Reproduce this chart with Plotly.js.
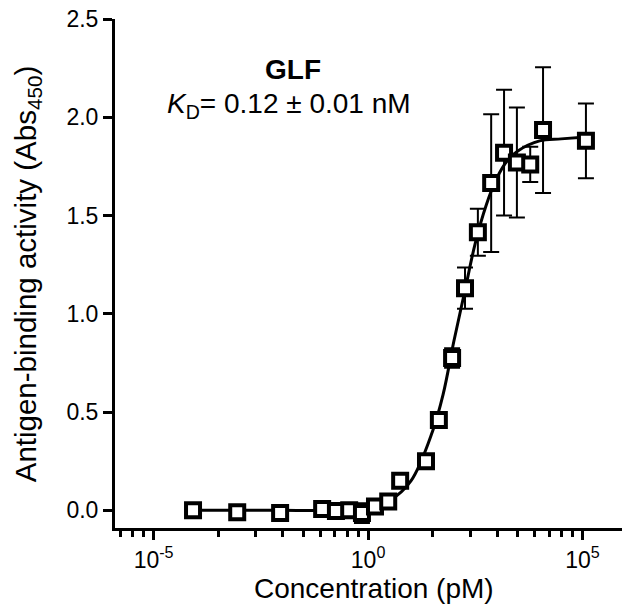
<!DOCTYPE html>
<html>
<head>
<meta charset="utf-8">
<script src="https://cdn.plot.ly/plotly-3.0.1.min.js"></script>
<style>html,body{margin:0;padding:0;background:#fff;}#chart{width:625px;height:606px;}</style>
</head>
<body>
<div id="chart"></div>
<script>
// Concentrations (pM) and antigen-binding activity (Abs450)
const concentration = [8.3e-5, 8.9e-4, 8.9e-3, 0.085, 0.178, 0.363, 0.72, 1.45, 2.95, 5.6,
  22.4, 44.7, 91, 182, 363, 741, 1480, 2950, 6030, 12000, 120000];
const activity = [0.00, -0.01, -0.014, 0.007, -0.004, 0.00, -0.014, 0.02, 0.045, 0.15,
  0.25, 0.46, 0.775, 1.13, 1.415, 1.665, 1.82, 1.77, 1.76, 1.935, 1.88];
const activityErr = [0.01, 0.01, 0.01, 0.01, 0.01, 0.01, 0.05, 0.02, 0.02, 0.02,
  0.02, 0.02, 0.05, 0.105, 0.12, 0.35, 0.32, 0.28, 0.09, 0.32, 0.19];

// Fitted curve, points
const fitConc = [8.3e-5, 1e-3, 1e-2, 0.1, 1, 3.16, 10, 31.6, 56.2, 100, 178, 316, 562,
  1000, 1778, 3162, 10000, 31623, 120000];
const fitActivity = [0, 0, 0, 0, 0.016, 0.05, 0.15, 0.40, 0.59, 0.86, 1.11, 1.36, 1.55,
  1.69, 1.78, 1.83, 1.88, 1.89, 1.90];

const xTickVals = [1e-5, 1, 1e5];
const xTickText = ['10<sup>-5</sup>', '10<sup>0</sup>', '10<sup>5</sup>'];
const yTickVals = [0, 0.5, 1.0, 1.5, 2.0, 2.5];
const yTickText = ['0.0', '0.5', '1.0', '1.5', '2.0', '2.5'];

const xRangeLog = [-5.90, 5.92];
const minorVals = [];
[-10, -5, 0, 5].forEach(b => {
  for (let k = 2; k <= 9; k++) {
    const lv = b + 5 * Math.log10(k);
    if (lv > xRangeLog[0] && lv < xRangeLog[1]) minorVals.push(Math.pow(10, lv));
  }
});

const FONT = 'Liberation Sans, Arial, Helvetica, sans-serif';

const traces = [
  {
    x: fitConc, y: fitActivity, type: 'scatter', mode: 'lines',
    line: {color: '#000', width: 3, shape: 'spline', smoothing: 1},
    hoverinfo: 'skip', showlegend: false
  },
  {
    x: concentration, y: activity, type: 'scatter', mode: 'markers',
    marker: {symbol: 'square', size: 14, color: '#fff', line: {color: '#000', width: 4}},
    error_y: {type: 'data', array: activityErr, visible: true, color: '#000', thickness: 2, width: 8},
    showlegend: false
  }
];

const layout = {
  width: 625, height: 606,
  margin: {l: 115, r: 3, t: 19, b: 78},
  paper_bgcolor: '#fff', plot_bgcolor: '#fff',
  font: {family: FONT, color: '#000'},
  showlegend: false,
  xaxis: {
    type: 'log', range: xRangeLog,
    tickmode: 'array', tickvals: xTickVals, ticktext: xTickText,
    ticks: 'outside', ticklen: 9, tickwidth: 3, tickcolor: '#000',
    minor: {tickmode: 'array', tickvals: minorVals, ticks: 'outside', ticklen: 6, tickwidth: 3, tickcolor: '#000', showgrid: false},
    showline: true, linewidth: 3, linecolor: '#000',
    showgrid: false, zeroline: false,
    tickfont: {family: FONT, size: 23, color: '#000'}
  },
  yaxis: {
    range: [-0.09, 2.5],
    tickmode: 'array', tickvals: yTickVals, ticktext: yTickText,
    ticks: 'outside', ticklen: 9, tickwidth: 3, tickcolor: '#000',
    showline: true, linewidth: 3, linecolor: '#000',
    showgrid: false, zeroline: false,
    tickfont: {family: FONT, size: 23, color: '#000'}
  },
  annotations: [
    {xref: 'paper', yref: 'paper', x: 0.352, y: 0.90, xanchor: 'center', yanchor: 'middle',
     text: '<b>GLF</b>', showarrow: false, font: {family: FONT, size: 28, color: '#000'}},
    {xref: 'paper', yref: 'paper', x: 0.344, y: 0.83, xanchor: 'center', yanchor: 'middle',
     text: '<i>K</i><sub>D</sub>= 0.12 ± 0.01 nM', showarrow: false, font: {family: FONT, size: 28, color: '#000'}},
    {xref: 'paper', yref: 'paper', x: -0.172, y: 0.50, xanchor: 'center', yanchor: 'middle',
     textangle: -90, text: 'Antigen-binding activity (Abs<sub>450</sub>)', showarrow: false,
     font: {family: FONT, size: 29.5, color: '#000'}},
    {xref: 'paper', yref: 'paper', x: 0.511, y: -0.118, xanchor: 'center', yanchor: 'middle',
     text: 'Concentration (pM)', showarrow: false, font: {family: FONT, size: 28, color: '#000'}}
  ]
};

Plotly.newPlot('chart', traces, layout, {displayModeBar: false, staticPlot: true});
</script>
</body>
</html>
